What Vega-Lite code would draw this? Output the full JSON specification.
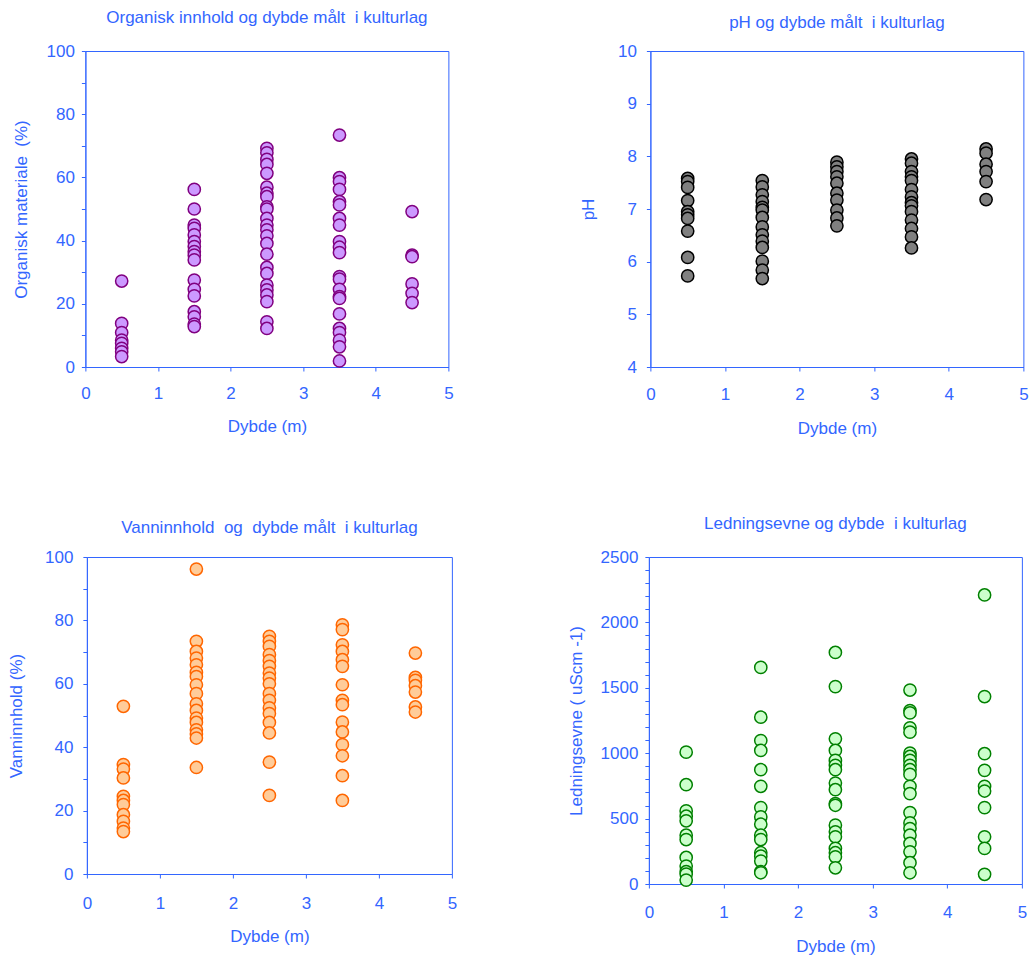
{
  "$schema": "https://vega.github.io/schema/vega-lite/v6.json",
  "background": "white",
  "padding": {"left": 7, "top": 8, "right": 0, "bottom": 0},
  "config": {
    "view": {"stroke": "#3366FF", "strokeWidth": 1},
    "axis": {"domainColor": "#3366FF", "tickColor": "#3366FF", "labelColor": "#3366FF", "titleColor": "#3366FF", "labelFont": "Liberation Sans", "titleFont": "Liberation Sans", "labelFontSize": 17, "titleFontSize": 17, "titleFontWeight": "normal", "grid": false, "tickSize": 4, "labelFlush": false, "labelOverlap": false, "labelBound": false},
    "title": {"color": "#3366FF", "font": "Liberation Sans", "fontSize": 17, "fontWeight": "normal"},
    "concat": {"spacing": 0}
  },
  "datasets": {
    "org": [
      {"d":0.5,"v":27.2},{"d":0.5,"v":13.8},{"d":0.5,"v":10.9},{"d":0.5,"v":8.5},{"d":0.5,"v":7.5},{"d":0.5,"v":5.9},{"d":0.5,"v":4.8},{"d":0.5,"v":3.3},
      {"d":1.5,"v":56.2},{"d":1.5,"v":50},{"d":1.5,"v":44.9},{"d":1.5,"v":43.9},{"d":1.5,"v":41.8},{"d":1.5,"v":39.7},{"d":1.5,"v":38.1},{"d":1.5,"v":36.5},{"d":1.5,"v":35.4},{"d":1.5,"v":33.9},{"d":1.5,"v":27.5},{"d":1.5,"v":24.6},{"d":1.5,"v":22.5},{"d":1.5,"v":17.5},{"d":1.5,"v":15.9},{"d":1.5,"v":13.6},{"d":1.5,"v":12.8},
      {"d":2.5,"v":69.2},{"d":2.5,"v":67.8},{"d":2.5,"v":65.7},{"d":2.5,"v":64.1},{"d":2.5,"v":61.3},{"d":2.5,"v":56.9},{"d":2.5,"v":55},{"d":2.5,"v":53.9},{"d":2.5,"v":50.7},{"d":2.5,"v":50},{"d":2.5,"v":47},{"d":2.5,"v":44.9},{"d":2.5,"v":43.4},{"d":2.5,"v":41.5},{"d":2.5,"v":39.1},{"d":2.5,"v":35.7},{"d":2.5,"v":31.5},{"d":2.5,"v":29.6},{"d":2.5,"v":25.9},{"d":2.5,"v":24.4},{"d":2.5,"v":22.8},{"d":2.5,"v":20.7},{"d":2.5,"v":14.3},{"d":2.5,"v":12.2},
      {"d":3.5,"v":73.4},{"d":3.5,"v":59.9},{"d":3.5,"v":58.7},{"d":3.5,"v":56.2},{"d":3.5,"v":52.3},{"d":3.5,"v":51.3},{"d":3.5,"v":47},{"d":3.5,"v":44.9},{"d":3.5,"v":39.7},{"d":3.5,"v":37.9},{"d":3.5,"v":36.2},{"d":3.5,"v":28.6},{"d":3.5,"v":27.8},{"d":3.5,"v":24.6},{"d":3.5,"v":22.3},{"d":3.5,"v":21.7},{"d":3.5,"v":16.8},{"d":3.5,"v":12.2},{"d":3.5,"v":10.9},{"d":3.5,"v":8.5},{"d":3.5,"v":6.4},{"d":3.5,"v":1.9},
      {"d":4.5,"v":49.2},{"d":4.5,"v":35.4},{"d":4.5,"v":34.9},{"d":4.5,"v":26.3},{"d":4.5,"v":23.3},{"d":4.5,"v":20.4}
    ],
    "ph": [
      {"d":0.5,"v":7.58},{"d":0.5,"v":7.52},{"d":0.5,"v":7.41},{"d":0.5,"v":7.16},{"d":0.5,"v":6.95},{"d":0.5,"v":6.89},{"d":0.5,"v":6.82},{"d":0.5,"v":6.58},{"d":0.5,"v":6.08},{"d":0.5,"v":5.73},
      {"d":1.5,"v":7.54},{"d":1.5,"v":7.42},{"d":1.5,"v":7.27},{"d":1.5,"v":7.14},{"d":1.5,"v":7.03},{"d":1.5,"v":6.98},{"d":1.5,"v":6.84},{"d":1.5,"v":6.66},{"d":1.5,"v":6.51},{"d":1.5,"v":6.39},{"d":1.5,"v":6.27},{"d":1.5,"v":6.01},{"d":1.5,"v":5.84},{"d":1.5,"v":5.68},
      {"d":2.5,"v":7.89},{"d":2.5,"v":7.80},{"d":2.5,"v":7.71},{"d":2.5,"v":7.61},{"d":2.5,"v":7.49},{"d":2.5,"v":7.30},{"d":2.5,"v":7.17},{"d":2.5,"v":6.98},{"d":2.5,"v":6.83},{"d":2.5,"v":6.68},
      {"d":3.5,"v":7.95},{"d":3.5,"v":7.87},{"d":3.5,"v":7.71},{"d":3.5,"v":7.61},{"d":3.5,"v":7.54},{"d":3.5,"v":7.37},{"d":3.5,"v":7.23},{"d":3.5,"v":7.12},{"d":3.5,"v":7.06},{"d":3.5,"v":6.95},{"d":3.5,"v":6.79},{"d":3.5,"v":6.63},{"d":3.5,"v":6.47},{"d":3.5,"v":6.26},
      {"d":4.5,"v":8.14},{"d":4.5,"v":8.06},{"d":4.5,"v":7.85},{"d":4.5,"v":7.71},{"d":4.5,"v":7.52},{"d":4.5,"v":7.18}
    ],
    "vann": [
      {"d":0.5,"v":52.9},{"d":0.5,"v":34.5},{"d":0.5,"v":33.1},{"d":0.5,"v":30.3},{"d":0.5,"v":24.5},{"d":0.5,"v":23.2},{"d":0.5,"v":21.9},{"d":0.5,"v":18.7},{"d":0.5,"v":16.6},{"d":0.5,"v":14.5},{"d":0.5,"v":13.4},
      {"d":1.5,"v":96.2},{"d":1.5,"v":73.4},{"d":1.5,"v":70.2},{"d":1.5,"v":68.1},{"d":1.5,"v":66.0},{"d":1.5,"v":63.6},{"d":1.5,"v":62.3},{"d":1.5,"v":59.7},{"d":1.5,"v":56.9},{"d":1.5,"v":53.7},{"d":1.5,"v":51.6},{"d":1.5,"v":49.2},{"d":1.5,"v":47.8},{"d":1.5,"v":45.5},{"d":1.5,"v":44.2},{"d":1.5,"v":42.9},{"d":1.5,"v":33.6},
      {"d":2.5,"v":75.0},{"d":2.5,"v":73.4},{"d":2.5,"v":71.8},{"d":2.5,"v":69.2},{"d":2.5,"v":67.3},{"d":2.5,"v":65.5},{"d":2.5,"v":63.4},{"d":2.5,"v":61.8},{"d":2.5,"v":60.0},{"d":2.5,"v":56.9},{"d":2.5,"v":54.8},{"d":2.5,"v":52.4},{"d":2.5,"v":50.6},{"d":2.5,"v":47.8},{"d":2.5,"v":44.5},{"d":2.5,"v":35.3},{"d":2.5,"v":24.8},
      {"d":3.5,"v":78.6},{"d":3.5,"v":77.1},{"d":3.5,"v":72.3},{"d":3.5,"v":70.2},{"d":3.5,"v":67.6},{"d":3.5,"v":65.5},{"d":3.5,"v":59.7},{"d":3.5,"v":54.8},{"d":3.5,"v":53.4},{"d":3.5,"v":47.9},{"d":3.5,"v":44.8},{"d":3.5,"v":40.8},{"d":3.5,"v":37.3},{"d":3.5,"v":31.0},{"d":3.5,"v":23.2},
      {"d":4.5,"v":69.7},{"d":4.5,"v":62.0},{"d":4.5,"v":61.1},{"d":4.5,"v":59.4},{"d":4.5,"v":57.4},{"d":4.5,"v":52.7},{"d":4.5,"v":51.1}
    ],
    "led": [
      {"d":0.5,"v":1008},{"d":0.5,"v":759},{"d":0.5,"v":559},{"d":0.5,"v":518},{"d":0.5,"v":483},{"d":0.5,"v":373},{"d":0.5,"v":340},{"d":0.5,"v":203},{"d":0.5,"v":137},{"d":0.5,"v":94},{"d":0.5,"v":76},{"d":0.5,"v":30},
      {"d":1.5,"v":1656},{"d":1.5,"v":1275},{"d":1.5,"v":1097},{"d":1.5,"v":1021},{"d":1.5,"v":874},{"d":1.5,"v":747},{"d":1.5,"v":584},{"d":1.5,"v":513},{"d":1.5,"v":457},{"d":1.5,"v":373},{"d":1.5,"v":340},{"d":1.5,"v":239},{"d":1.5,"v":213},{"d":1.5,"v":175},{"d":1.5,"v":94},{"d":1.5,"v":86},
      {"d":2.5,"v":1770},{"d":2.5,"v":1509},{"d":2.5,"v":1110},{"d":2.5,"v":1021},{"d":2.5,"v":945},{"d":2.5,"v":907},{"d":2.5,"v":874},{"d":2.5,"v":772},{"d":2.5,"v":721},{"d":2.5,"v":615},{"d":2.5,"v":602},{"d":2.5,"v":450},{"d":2.5,"v":399},{"d":2.5,"v":361},{"d":2.5,"v":272},{"d":2.5,"v":239},{"d":2.5,"v":208},{"d":2.5,"v":124},
      {"d":3.5,"v":1483},{"d":3.5,"v":1326},{"d":3.5,"v":1308},{"d":3.5,"v":1194},{"d":3.5,"v":1161},{"d":3.5,"v":1001},{"d":3.5,"v":975},{"d":3.5,"v":945},{"d":3.5,"v":907},{"d":3.5,"v":874},{"d":3.5,"v":838},{"d":3.5,"v":747},{"d":3.5,"v":691},{"d":3.5,"v":546},{"d":3.5,"v":467},{"d":3.5,"v":424},{"d":3.5,"v":373},{"d":3.5,"v":310},{"d":3.5,"v":246},{"d":3.5,"v":163},{"d":3.5,"v":86},
      {"d":4.5,"v":2210},{"d":4.5,"v":1433},{"d":4.5,"v":996},{"d":4.5,"v":869},{"d":4.5,"v":747},{"d":4.5,"v":711},{"d":4.5,"v":584},{"d":4.5,"v":361},{"d":4.5,"v":272},{"d":4.5,"v":74}
    ]
  },
  "spacing": 77,
  "center": true,
  "vconcat": [
    {
      "spacing": 124,
      "hconcat": [
        {
          "width": 363, "height": 316,
          "title": {"text": "Organisk innhold og dybde målt\u00a0 i kulturlag", "offset": 15},
          "data": {"name": "org"},
          "mark": {"type": "circle", "size": 150, "fill": "#CC99FF", "stroke": "#800080", "strokeWidth": 1.5, "opacity": 1},
          "encoding": {
            "x": {"field": "d", "type": "quantitative", "scale": {"domain": [0, 5], "nice": false}, "axis": {"title": "Dybde (m)", "format": "d", "values": [0,0.5,1,1.5,2,2.5,3,3.5,4,4.5,5], "labelExpr": "datum.value % 1 === 0 ? datum.label : ''", "labelPadding": 14, "titlePadding": 17}},
            "y": {"field": "v", "type": "quantitative", "scale": {"domain": [0, 100], "nice": false}, "axis": {"title": "Organisk materiale\u00a0 (%)", "format": "d", "values": [0,10,20,30,40,50,60,70,80,90,100], "labelExpr": "datum.value % 20 === 0 ? datum.label : ''", "labelPadding": 7, "titlePadding": 16}}
          }
        },
        {
          "width": 373, "height": 316,
          "title": {"text": "pH og dybde målt\u00a0 i kulturlag", "offset": 10},
          "data": {"name": "ph"},
          "mark": {"type": "circle", "size": 150, "fill": "#808080", "stroke": "#000000", "strokeWidth": 1.5, "opacity": 1},
          "encoding": {
            "x": {"field": "d", "type": "quantitative", "scale": {"domain": [0, 5], "nice": false}, "axis": {"title": "Dybde (m)", "format": "d", "values": [0,0.5,1,1.5,2,2.5,3,3.5,4,4.5,5], "labelExpr": "datum.value % 1 === 0 ? datum.label : ''", "labelPadding": 15, "titlePadding": 18}},
            "y": {"field": "v", "type": "quantitative", "scale": {"domain": [4, 10], "nice": false, "zero": false}, "axis": {"title": "pH", "format": "d", "values": [4,4.5,5,5.5,6,6.5,7,7.5,8,8.5,9,9.5,10], "labelExpr": "datum.value % 1 === 0 ? datum.label : ''", "labelPadding": 10, "titlePadding": 20}}
          }
        }
      ]
    },
    {
      "spacing": 108,
      "hconcat": [
        {
          "width": 365, "height": 317,
          "title": {"text": "Vanninnhold\u00a0 og\u00a0 dybde målt\u00a0 i kulturlag", "offset": 11},
          "data": {"name": "vann"},
          "mark": {"type": "circle", "size": 150, "fill": "#FFCC99", "stroke": "#FF6600", "strokeWidth": 1.5, "opacity": 1},
          "encoding": {
            "x": {"field": "d", "type": "quantitative", "scale": {"domain": [0, 5], "nice": false}, "axis": {"title": "Dybde (m)", "format": "d", "values": [0,0.5,1,1.5,2,2.5,3,3.5,4,4.5,5], "labelExpr": "datum.value % 1 === 0 ? datum.label : ''", "labelPadding": 17, "titlePadding": 17}},
            "y": {"field": "v", "type": "quantitative", "scale": {"domain": [0, 100], "nice": false}, "axis": {"title": "Vanninnhold (%)", "format": "d", "values": [0,10,20,30,40,50,60,70,80,90,100], "labelExpr": "datum.value % 20 === 0 ? datum.label : ''", "labelPadding": 10, "titlePadding": 19}}
          }
        },
        {
          "width": 373, "height": 327,
          "title": {"text": "Ledningsevne og dybde\u00a0 i kulturlag", "offset": 15},
          "data": {"name": "led"},
          "mark": {"type": "circle", "size": 150, "fill": "#CCFFCC", "stroke": "#008000", "strokeWidth": 1.5, "opacity": 1},
          "encoding": {
            "x": {"field": "d", "type": "quantitative", "scale": {"domain": [0, 5], "nice": false}, "axis": {"title": "Dybde (m)", "format": "d", "values": [0,0.5,1,1.5,2,2.5,3,3.5,4,4.5,5], "labelExpr": "datum.value % 1 === 0 ? datum.label : ''", "labelPadding": 16, "titlePadding": 18}},
            "y": {"field": "v", "type": "quantitative", "scale": {"domain": [0, 2500], "nice": false}, "axis": {"title": "Ledningsevne ( uScm -1)", "format": "d", "values": [0,100,200,300,400,500,600,700,800,900,1000,1100,1200,1300,1400,1500,1600,1700,1800,1900,2000,2100,2200,2300,2400,2500], "labelExpr": "datum.value % 500 === 0 ? datum.label : ''", "labelPadding": 7, "titlePadding": 15}}
          }
        }
      ]
    }
  ]
}
